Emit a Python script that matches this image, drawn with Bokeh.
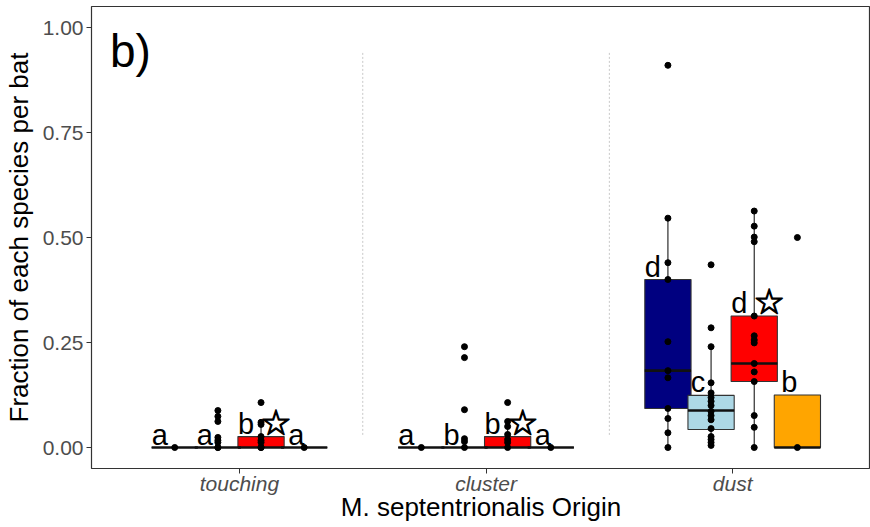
from bokeh.plotting import figure
from bokeh.models import Range1d, FixedTicker, NumeralTickFormatter, ColumnDataSource, Label
from bokeh.core.properties import value
from bokeh.embed import file_html
from bokeh.resources import INLINE

# Bat origin groups on the x axis
origins = ["touching", "cluster", "dust"]

# Fill colour for each of the four species (dodged within each group)
species_colors = ["#000080", "#ADD8E6", "#FF0000", "#FFA500"]

# Box statistics, group-major order (touching 1-4, cluster 1-4, dust 1-4)
box_q1 = [0, 0, 0, 0, 0, 0, 0, 0, 0.093, 0.043, 0.157, 0]
box_med = [0, 0, 0, 0, 0, 0, 0, 0, 0.183, 0.088, 0.200, 0]
box_q3 = [0, 0, 0.026, 0, 0, 0, 0.026, 0, 0.400, 0.124, 0.313, 0.125]
whisk_lo = [0, 0, 0, 0, 0, 0, 0, 0, 0, 0.005, 0, 0]
whisk_hi = [0, 0, 0.062, 0, 0, 0, 0.062, 0, 0.546, 0.240, 0.563, 0]

# Compact letter display for each box, and which boxes carry a star
letters = ["a", "a", "b", "a",
           "a", "b", "b", "a",
           "d", "c", "d", "b"]
starred = [False, False, True, False,
           False, False, True, False,
           False, False, True, False]

# Per-bat fractions, one list per species within each group
pts_touching = [
    [0],
    [0.088, 0.074, 0.062, 0.024, 0.017, 0.012, 0, 0],
    [0.107, 0.060, 0.055, 0.026, 0.017, 0.012, 0, 0],
    [0],
]
pts_cluster = [
    [0],
    [0.240, 0.214, 0.090, 0.021, 0.014, 0],
    [0.107, 0.062, 0.050, 0.031, 0.019, 0.012, 0],
    [0],
]
pts_dust = [
    [0.910, 0.546, 0.440, 0.400, 0.252, 0.183, 0.166, 0.093, 0.069, 0.035, 0],
    [0.435, 0.285, 0.240, 0.154, 0.130, 0.119, 0.110, 0.100, 0.086, 0.076,
     0.066, 0.045, 0.026, 0.019, 0.012, 0.005],
    [0.563, 0.527, 0.501, 0.490, 0.313, 0.266, 0.256, 0.249, 0.200, 0.180,
     0.157, 0.076, 0.048, 0],
    [0.500, 0],
]

# dodge geometry (data units along the x axis)
DODGE = 0.175
BOX_W = 0.1875
label_dx = [-15, -13, -15, -8]  # pixel nudges of the letters per species

xc, colors, lbl_off = [], [], []
for g in range(len(origins)):
    for s in range(4):
        xc.append(g + 1 + (s - 1.5) * DODGE)
        colors.append(species_colors[s])
        lbl_off.append(label_dx[s])

boxes = ColumnDataSource(dict(
    x=xc,
    left=[x - BOX_W / 2 for x in xc],
    right=[x + BOX_W / 2 for x in xc],
    q1=box_q1, med=box_med, q3=box_q3, lo=whisk_lo, hi=whisk_hi,
    color=colors, label=letters, dx=lbl_off,
))

stars = ColumnDataSource(dict(
    x=[x for x, f in zip(xc, starred) if f],
    y=[q for q, f in zip(box_q3, starred) if f],
    text=["\u2606"] * sum(starred),
))

px, py = [], []
for g, group in enumerate([pts_touching, pts_cluster, pts_dust]):
    for s, vals in enumerate(group):
        for v in vals:
            px.append(g + 1 + (s - 1.5) * DODGE)
            py.append(v)

p = figure(width=870, height=527,
           x_range=Range1d(0.4, 3.559), y_range=Range1d(-0.05, 1.05),
           output_backend="svg", toolbar_location=None,
           min_border_left=91, min_border_right=0,
           min_border_top=6, min_border_bottom=59)

p.background_fill_color = "white"
p.border_fill_color = "white"
p.outline_line_color = "#333333"
p.outline_line_width = 1.2
p.xgrid.visible = False
p.ygrid.visible = False

# dotted separators between origin groups
seps = [1.5, 2.5]
p.segment(x0=seps, x1=seps, y0=[0.03] * 2, y1=[0.94] * 2,
          line_color="#c8c8c8", line_width=1, line_dash="2 2")

# whiskers
p.segment(x0="x", x1="x", y0="q3", y1="hi", source=boxes,
          line_color="#1a1a1a", line_width=1.1)
p.segment(x0="x", x1="x", y0="q1", y1="lo", source=boxes,
          line_color="#1a1a1a", line_width=1.1)

# boxes and medians
p.quad(left="left", right="right", bottom="q1", top="q3", source=boxes,
       fill_color="color", line_color="#333333", line_width=1.1)
p.segment(x0="left", x1="right", y0="med", y1="med", source=boxes,
          line_color="#111111", line_width=2.6)

# individual bats
p.scatter(px, py, size=6, color="black")

# letter labels above each box
p.text(x="x", y="q3", text="label", source=boxes,
       x_offset="dx", y_offset=3,
       text_font=value("Liberation Sans"), text_font_size="29px",
       text_align="center", text_baseline="bottom", text_color="black")

# open star after the letter where the species differs from the reference
p.text(x="x", y="y", text="text", source=stars,
       x_offset=15, y_offset=6,
       text_font=value("DejaVu Sans"), text_font_size="35px",
       text_font_style="bold",
       text_align="center", text_baseline="bottom", text_color="black",
       text_outline_color="black")

p.add_layout(Label(x=0.475, y=1.005, text="b)",
                   text_font="Liberation Sans", text_font_size="46px",
                   text_color="black", text_baseline="top"))

# axes
p.xaxis.ticker = FixedTicker(ticks=[1, 2, 3])
p.xaxis.major_label_overrides = {1: origins[0], 2: origins[1], 3: origins[2]}
p.xaxis.major_label_text_font_style = "italic"
p.yaxis.ticker = FixedTicker(ticks=[0, 0.25, 0.5, 0.75, 1.0])
p.yaxis.formatter = NumeralTickFormatter(format="0.00")

for ax in (p.xaxis, p.yaxis):
    ax.axis_line_color = None
    ax.major_tick_line_color = "#333333"
    ax.major_tick_out = 5
    ax.major_tick_in = 0
    ax.minor_tick_line_color = None
    ax.major_label_text_font = "Liberation Sans"
    ax.major_label_text_font_size = "21px"
    ax.major_label_text_color = "#4d4d4d"
    ax.axis_label_text_font = "Liberation Sans"
    ax.axis_label_text_font_size = "26px"
    ax.axis_label_text_font_style = "normal"
    ax.axis_label_text_color = "black"

p.xaxis.axis_label = "M. septentrionalis Origin"
p.yaxis.axis_label = "Fraction of each species per bat"
p.xaxis.major_label_standoff = -2
p.xaxis.axis_label_standoff = -6
p.yaxis.major_label_standoff = 3
p.yaxis.axis_label_standoff = 6

open("out.html", "w").write(file_html(p, INLINE))
